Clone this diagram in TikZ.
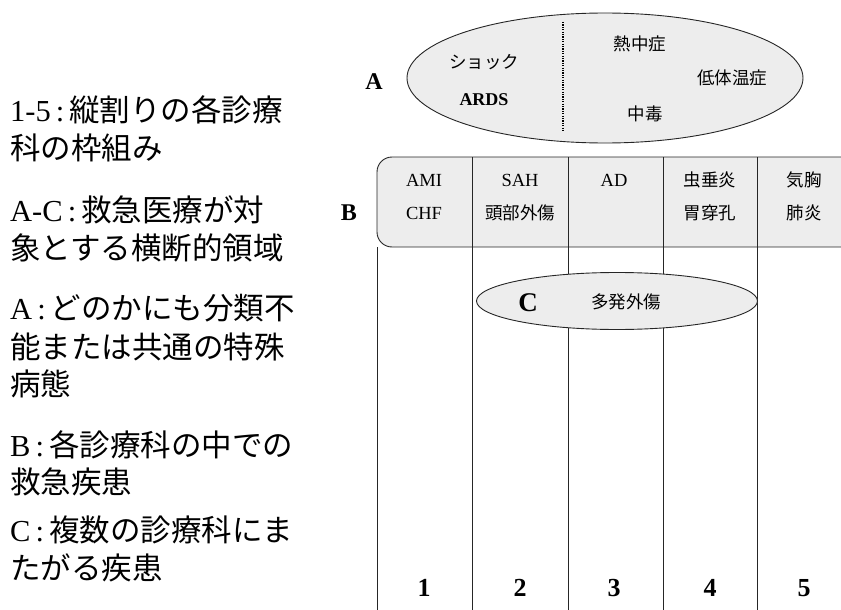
\documentclass[tikz,border=0pt]{standalone}
\usepackage{fontspec}
\setmainfont{Liberation Serif}
\newfontfamily\jp{Noto Sans CJK JP}
\usetikzlibrary{shapes.geometric}
\tikzset{
  shade/.style={fill=gray!14},
  frame/.style={line width=0.9pt, draw=black!85},
  lefttext/.style={anchor=west, inner sep=0pt, font=\fontsize{30.5}{32}\selectfont},
  cell/.style={inner sep=0pt, font=\fontsize{18.5}{20}\selectfont},
  jcell/.style={inner sep=0pt, font=\jp\fontsize{17.5}{20}\selectfont},
  big/.style={inner sep=0pt, font=\fontsize{24}{26}\selectfont\bfseries},
  num/.style={inner sep=0pt, font=\fontsize{26}{28}\selectfont\bfseries}
}
\begin{document}
\begin{tikzpicture}[x=1pt,y=-1pt]
\useasboundingbox (0,0) rectangle (841,610);
% left legend
\node[lefttext] (l1) at (10,110) {1-5\,:\,{\jp 縦割りの各診療}};
\node[lefttext] (l2) at (10,148) {{\jp 科の枠組み}};
\node[lefttext] (l3) at (10,210) {A-C\,:\,{\jp 救急医療が対}};
\node[lefttext] (l4) at (10,248) {{\jp 象とする横断的領域}};
\node[lefttext] (l5) at (10,308) {A\,:\,{\jp どのかにも分類不}};
\node[lefttext] (l6) at (10,347) {{\jp 能または共通の特殊}};
\node[lefttext] (l7) at (10,384) {{\jp 病態}};
\node[lefttext] (l8) at (10,445) {B\,:\,{\jp 各診療科の中での}};
\node[lefttext] (l9) at (10,482) {{\jp 救急疾患}};
\node[lefttext] (l10) at (10,530) {C\,:\,{\jp 複数の診療科にま}};
\node[lefttext] (l11) at (10,568) {{\jp たがる疾患}};

% A ellipse
\node[ellipse, frame, shade, minimum width=396, minimum height=130, inner sep=0pt] (A) at (605,78) {};
\coordinate (dtop) at (563,22);
\coordinate (dbot) at (563,132);
\draw[line width=1.6pt, dash pattern=on 1.3pt off 1.1pt] (dtop) -- (dbot);
\node[big] (Alab) at (374,82) {A};
\node[jcell] (shock) at (484,62) {ショック};
\node[cell, font=\fontsize{18}{20}\selectfont\bfseries] (ards) at (484,100) {ARDS};
\node[jcell] (netsu) at (640,44) {熱中症};
\node[jcell] (teitai) at (732,78) {低体温症};
\node[jcell] (chudoku) at (645,114) {中毒};

% B band
\draw[frame, shade, rounded corners=15] (850,157) -- (377,157) -- (377,247) -- (850,247);
\coordinate (c0t) at (377,247);
\coordinate (c0b) at (377,612);
\coordinate (c1t) at (472,157);
\coordinate (c1b) at (472,612);
\coordinate (c2t) at (568,157);
\coordinate (c2b) at (568,612);
\coordinate (c3t) at (663,157);
\coordinate (c3b) at (663,612);
\coordinate (c4t) at (757,157);
\coordinate (c4b) at (757,612);
\draw[frame] (c0t) -- (c0b);
\draw[frame] (c1t) -- (c1b);
\draw[frame] (c2t) -- (c2b);
\draw[frame] (c3t) -- (c3b);
\draw[frame] (c4t) -- (c4b);
\node[big] (Blab) at (349,213) {B};
\node[cell] (ami) at (424,180) {AMI};
\node[cell] (chf) at (424,213) {CHF};
\node[cell] (sah) at (520,180) {SAH};
\node[jcell] (tobu) at (520,213) {頭部外傷};
\node[cell] (ad) at (614,180) {AD};
\node[jcell] (chusui) at (710,180) {虫垂炎};
\node[jcell] (i) at (710,213) {胃穿孔};
\node[jcell] (kikyo) at (804,180) {気胸};
\node[jcell] (haien) at (804,213) {肺炎};

% C ellipse
\node[ellipse, frame, shade, minimum width=281, minimum height=57, inner sep=0pt] (Cell) at (617,301) {};
\node[big, font=\fontsize{27}{28}\selectfont\bfseries] (Clab) at (528,303) {C};
\node[jcell] (tahatsu) at (626,302) {多発外傷};

% numbers
\node[num] (n1) at (424,588) {1};
\node[num] (n2) at (520,588) {2};
\node[num] (n3) at (614,588) {3};
\node[num] (n4) at (710,588) {4};
\node[num] (n5) at (804,588) {5};
\end{tikzpicture}
\end{document}
